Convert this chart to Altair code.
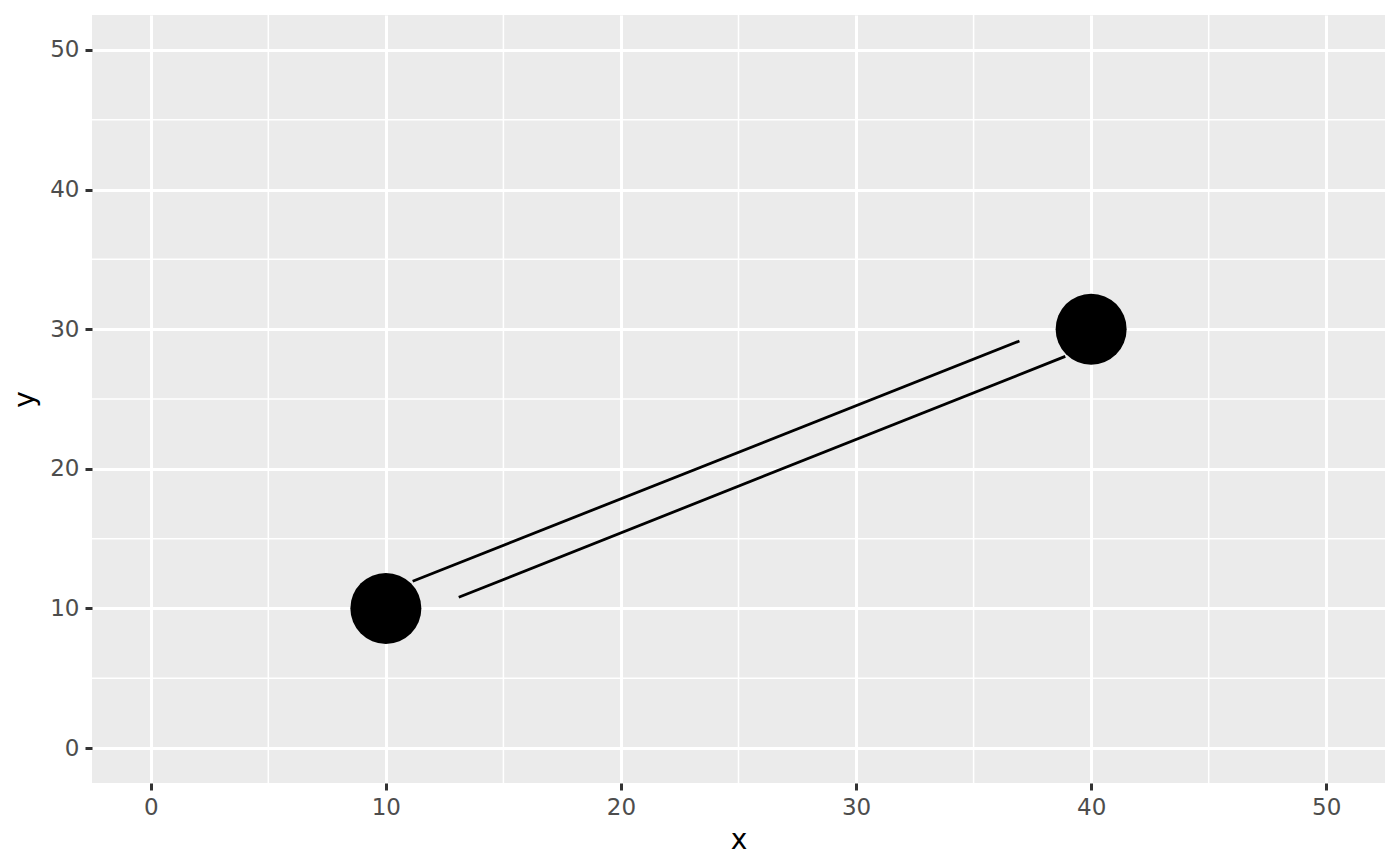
import altair as alt
import pandas as pd

# data
point_x = [10, 40]
point_y = [10, 30]
seg_x = [11.14, 13.10]
seg_y = [11.95, 10.80]
seg_x2 = [36.95, 38.90]
seg_y2 = [29.15, 28.05]
major_breaks = [0, 10, 20, 30, 40, 50]
minor_breaks = [5, 15, 25, 35, 45]
domain = [-2.5, 52.5]

points = pd.DataFrame({"x": point_x, "y": point_y})
segs = pd.DataFrame({"x": seg_x, "y": seg_y, "x2": seg_x2, "y2": seg_y2})
minor = pd.DataFrame({"v": minor_breaks})

xs = alt.Scale(domain=domain, nice=False, zero=False)
ys = alt.Scale(domain=domain, nice=False, zero=False)

axis_common = dict(
    values=major_breaks,
    grid=True,
    gridColor="white",
    gridWidth=3,
    domain=False,
    ticks=True,
    tickColor="#333333",
    tickWidth=3,
    tickSize=7,
    labelColor="#4D4D4D",
    labelFont="DejaVu Sans",
    labelFontSize=23,
    titleFont="DejaVu Sans",
    titleFontSize=28,
    titleFontWeight="normal",
    titleColor="black",
)

base_x = alt.X("x:Q", scale=xs, title="x",
               axis=alt.Axis(labelPadding=6, titlePadding=7, **axis_common))
base_y = alt.Y("y:Q", scale=ys, title="y",
               axis=alt.Axis(labelPadding=6, titlePadding=10, **axis_common))

minor_v = alt.Chart(minor).mark_rule(color="white", strokeWidth=1.5).encode(
    x=alt.X("v:Q", scale=xs)
)
minor_h = alt.Chart(minor).mark_rule(color="white", strokeWidth=1.5).encode(
    y=alt.Y("v:Q", scale=ys)
)

segments = alt.Chart(segs).mark_rule(color="black", strokeWidth=2.8).encode(
    x=base_x, y=base_y, x2="x2:Q", y2="y2:Q"
)

pts = alt.Chart(points).mark_circle(color="black", opacity=1, size=5041).encode(
    x=base_x, y=base_y
)

chart = alt.layer(minor_v, minor_h, segments, pts).properties(
    width=1293,
    height=768,
    autosize=alt.AutoSizeParams(type="none"),
    padding={"left": 84, "top": 7, "right": 7, "bottom": 75},
).configure_view(fill="#EBEBEB", stroke=None)

chart.save("out.html", embed_options={"renderer": "svg", "actions": False})
